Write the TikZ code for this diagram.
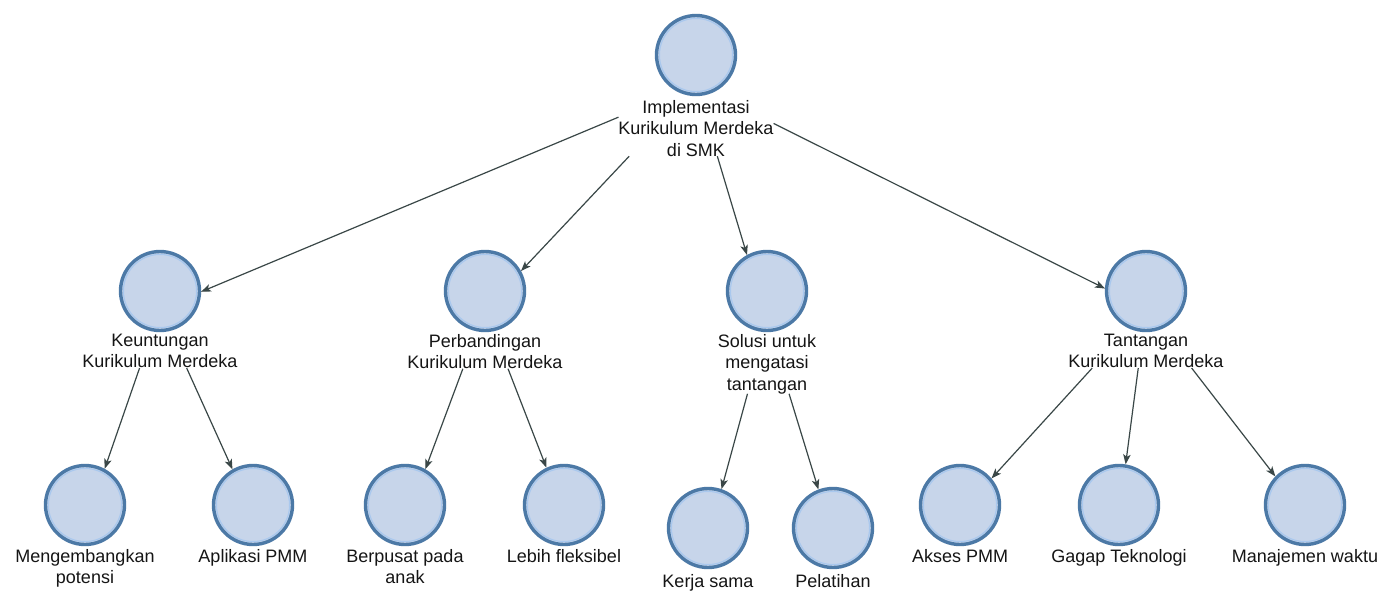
\documentclass[tikz,border=0pt]{standalone}
\usepackage{fontspec}
\setmainfont{Liberation Sans}
\usetikzlibrary{arrows.meta,fit,intersections}
\definecolor{cfill}{HTML}{C7D5EA}
\definecolor{cedge}{HTML}{4C79A6}
\definecolor{cring}{HTML}{A9C8EE}
\definecolor{carrow}{HTML}{3A4747}
\definecolor{ctext}{HTML}{151515}
\tikzset{
  circ/.style={circle, minimum size=79pt, inner sep=0pt, fill=cfill, draw=cedge, line width=3.4pt,
    path picture={\draw[cring, line width=1.2pt] (path picture bounding box.center) circle (36.6pt);}},
  lbl/.style={anchor=north, align=center, inner sep=0pt, outer sep=0pt, text=ctext,
    font={\fontsize{18}{21.5}\selectfont}},
  grp/.style={inner sep=0pt, outer sep=0pt},
  arr/.style={draw=carrow, line width=1.2pt, -{Stealth[length=10pt,width=7.5pt,inset=2.5pt]}, shorten >=1.7pt},
}
\newcommand\linkto[2]{%
  \path[name path=p#1#2] (g#1.center) -- (g#2.center);
  \draw[arr, name intersections={of=p#1#2 and c#2, by={x#1#2}}] (g#1) -- (x#1#2);}
\newcommand\unit[5]{% id, x, y(circle), ytop(label), text
  \node[circ, name path=c#1] (c#1) at (#2,#3) {};
  \node[lbl] (l#1) at (#2,#4) {#5};
  \node[grp, fit=(c#1)(l#1)] (g#1) {};}
\begin{document}
\begin{tikzpicture}[x=1pt,y=-1pt]
\fill[white] (0,0) rectangle (1384,590);
\useasboundingbox (0,0) rectangle (1384,590);
\unit{R}{696}{55}{100}{Implementasi\\Kurikulum Merdeka\\di SMK}
\unit{K}{160}{291}{334}{Keuntungan\\Kurikulum Merdeka}
\unit{P}{485}{291}{334}{Perbandingan\\Kurikulum Merdeka}
\unit{S}{767}{291}{334}{Solusi untuk\\mengatasi\\tantangan}
\unit{T}{1146}{291}{334}{Tantangan\\Kurikulum Merdeka}
\unit{Ka}{85}{505}{549}{Mengembangkan\\potensi}
\unit{Kb}{253}{505}{549}{Aplikasi PMM}
\unit{Pa}{405}{505}{549}{Berpusat pada\\anak}
\unit{Pb}{564}{505}{549}{Lebih fleksibel}
\unit{Sa}{708}{528}{574}{Kerja sama}
\unit{Sb}{833}{528}{574}{Pelatihan}
\unit{Ta}{960}{505}{549}{Akses PMM}
\unit{Tb}{1119}{505}{549}{Gagap Teknologi}
\unit{Tc}{1305}{505}{549}{Manajemen waktu}
\linkto{R}{K}
\linkto{R}{P}
\linkto{R}{S}
\linkto{R}{T}
\linkto{K}{Ka}
\linkto{K}{Kb}
\linkto{P}{Pa}
\linkto{P}{Pb}
\linkto{S}{Sa}
\linkto{S}{Sb}
\linkto{T}{Ta}
\linkto{T}{Tb}
\linkto{T}{Tc}
\end{tikzpicture}
\end{document}
